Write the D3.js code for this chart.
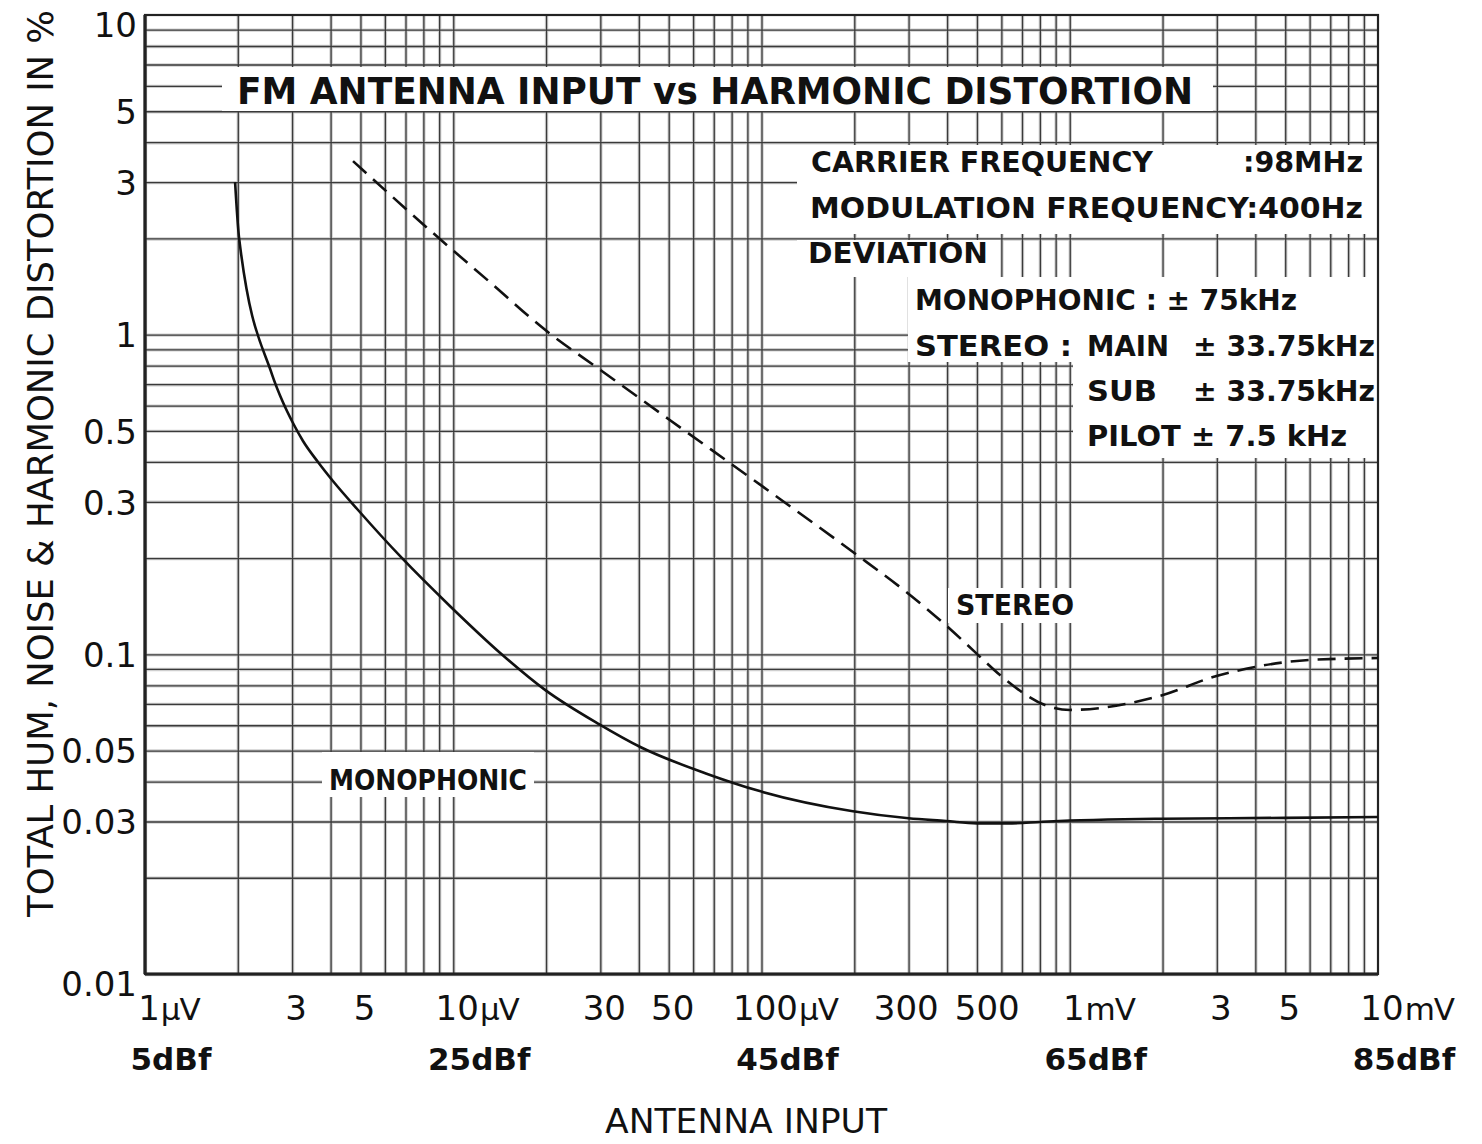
<!DOCTYPE html>
<html><head><meta charset="utf-8">
<script src="https://cdn.jsdelivr.net/npm/d3@7"></script>
<style>body{margin:0;background:#fff}svg{display:block}</style>
</head><body>
<svg id="c" width="1482" height="1144"></svg>
<script>
// ---------- data (antenna input in µV, distortion in %) ----------
const monoInput = [1.96,2.02,2.58,2.80,3.02,3.255,3.64,4.07,4.91,6.81,9.75,14.2,19.9,29.7,40.6,66,98,198,300,397,500,650,800,1000,1500,2000,5000,10000];
const monoTHD   = [3.0,2.0,0.753,0.6155,0.5293,0.465,0.3996,0.3485,0.2828,0.2002,0.1417,0.101,0.0773,0.0605,0.0512,0.0424,0.0374,0.0323,0.0307,0.0301,0.0296,0.0296,0.0299,0.0302,0.0305,0.0306,0.0308,0.031];
const stereoInput = [4.73,8.9,13,20,30,50,100,198,294,409,493,594,690,831,1002,1253,1569,2007,2915,3990,5973,10000];
const stereoTHD   = [3.49,2.02,1.474,1.03,0.776,0.544,0.337,0.209,0.157,0.12,0.1016,0.0861,0.0769,0.0694,0.067,0.0679,0.0704,0.0746,0.0849,0.0913,0.096,0.0974];

const yTickValues = [10,5,3,1,0.5,0.3,0.1,0.05,0.03,0.01];
const yTickLabels = ["10","5","3","1","0.5","0.3","0.1","0.05","0.03","0.01"];
const xTickValues = [1,3,5,10,30,50,100,300,500,1000,3000,5000,10000];
const xTickNumbers = ["1","3","5","10","30","50","100","300","500","1","3","5","10"];
const xTickUnits = ["µV","","","µV","","","µV","","","mV","","","mV"];
const dbfValues = [1,10,100,1000,10000];
const dbfLabels = ["5dBf","25dBf","45dBf","65dBf","85dBf"];

const title = "FM ANTENNA INPUT vs HARMONIC DISTORTION";
const xTitle = "ANTENNA INPUT";
const yTitle = "TOTAL HUM, NOISE & HARMONIC DISTORTION IN %";

// ---------- layout ----------
const FONT = "'DejaVu Sans', sans-serif";
const L = 145, R = 1378, T = 15, B = 974;
const svg = d3.select("#c");
const x = d3.scaleLog().domain([1, 10000]).range([L, R]);
const y = d3.scaleLog().domain([0.01, 10]).range([B, T]);

const gridX = [], gridY = [];
for (let k = 0; k < 4; k++) for (let m = 1; m < 10; m++) gridX.push(m * Math.pow(10, k));
for (let k = -2; k < 1; k++) for (let m = 1; m < 10; m++) gridY.push(m * Math.pow(10, k));

function grid(color, width) {
  const gx = svg.append("g").attr("transform", `translate(0,${B})`)
    .call(d3.axisBottom(x).tickValues(gridX).tickSize(-(B - T)).tickFormat(""));
  gx.select(".domain").remove();
  gx.selectAll("line").attr("stroke", color).attr("stroke-width", width);
  const gy = svg.append("g").attr("transform", `translate(${L},0)`)
    .call(d3.axisLeft(y).tickValues(gridY).tickSize(-(R - L)).tickFormat(""));
  gy.select(".domain").remove();
  gy.selectAll("line").attr("stroke", color).attr("stroke-width", width);
}
grid("#cfcfcf", 3.4);
grid("#3a3a3a", 1.3);

// white areas behind the lettering
const masks = [
  [222, 67, 991, 44],    // title
  [797, 145, 581, 89],   // carrier / modulation
  [797, 240, 203, 37],   // deviation
  [908, 277, 470, 85],   // monophonic / stereo main
  [1073, 362, 305, 96],  // sub / pilot
  [322, 752, 212, 45],   // MONOPHONIC label
  [948, 588, 132, 35]    // STEREO label
];
svg.append("g").selectAll("rect").data(masks).join("rect")
  .attr("x", d => d[0]).attr("y", d => d[1]).attr("width", d => d[2]).attr("height", d => d[3])
  .attr("fill", "#fff");

// frame
svg.append("rect").attr("x", L).attr("y", T).attr("width", R - L).attr("height", B - T)
  .attr("fill", "none").attr("stroke", "#222").attr("stroke-width", 2.2);
svg.append("line").attr("x1", L).attr("x2", L).attr("y1", T).attr("y2", B).attr("stroke", "#222").attr("stroke-width", 3.2);
svg.append("line").attr("x1", L).attr("x2", R).attr("y1", B).attr("y2", B).attr("stroke", "#222").attr("stroke-width", 3.2);

// curves
const line = d3.line().x(d => x(d[0])).y(d => y(d[1])).curve(d3.curveMonotoneX);
svg.append("path").datum(d3.zip(monoInput, monoTHD)).attr("d", line)
  .attr("fill", "none").attr("stroke", "#111").attr("stroke-width", 2.6);
svg.append("path").datum(d3.zip(stereoInput, stereoTHD)).attr("d", line)
  .attr("fill", "none").attr("stroke", "#111").attr("stroke-width", 2.6)
  .attr("stroke-dasharray", "18,9");

// y tick labels
const ya = svg.append("g").attr("transform", `translate(${L},0)`)
  .call(d3.axisLeft(y).tickValues(yTickValues).tickSize(0).tickPadding(8)
    .tickFormat(d => yTickLabels[yTickValues.indexOf(d)]));
ya.select(".domain").remove();
ya.selectAll("text").attr("font-family", FONT).attr("font-size", 34).attr("fill", "#111")
  .attr("dy", d => (d === 10 || d === 0.01) ? "0.62em" : "0.36em");

// x tick labels: number centred on the tick, unit trailing; push apart overlapping labels
const xl = svg.append("g").attr("font-family", FONT).attr("fill", "#111");
const items = xTickValues.map((v, i) => {
  const g = xl.append("g");
  const t = g.append("text").attr("x", 0).attr("y", 1020).attr("font-size", 34).text(xTickNumbers[i]);
  const w = t.node().getComputedTextLength();
  let total = w;
  if (xTickUnits[i]) {
    const u = g.append("text").attr("x", w + 1).attr("y", 1020).attr("font-size", 31)
      .attr("letter-spacing", -1).text(xTickUnits[i]);
    total += 1 + u.node().getComputedTextLength();
  }
  return {v, g, w, total, x0: x(v) - w / 2 + 4};
});
for (let i = 1; i < items.length; i++) {
  const a = items[i - 1], b = items[i];
  const gap = b.x0 - (a.x0 + a.total);
  if (gap < 16) { const s = (16 - gap) / 2; a.x0 -= s; b.x0 += s; }
}
items.forEach(it => it.g.attr("transform", `translate(${it.x0},0)`));

svg.append("g").selectAll("text").data(dbfValues).join("text")
  .attr("x", d => x(d) + 26).attr("y", 1070).attr("text-anchor", "middle")
  .attr("font-family", FONT).attr("font-size", 31).attr("font-weight", "bold").attr("fill", "#111")
  .text((d, i) => dbfLabels[i]);

// axis titles
svg.append("text").attr("x", 605).attr("y", 1133).attr("textLength", 282).attr("lengthAdjust", "spacingAndGlyphs")
  .attr("font-family", FONT).attr("font-size", 34).attr("fill", "#111").text(xTitle);
svg.append("text").attr("transform", "translate(53,917) rotate(-90)")
  .attr("textLength", 907).attr("lengthAdjust", "spacingAndGlyphs")
  .attr("font-family", FONT).attr("font-size", 35).attr("fill", "#111").text(yTitle);

// annotations: [text, x, baseline, width, size, weight]
const notes = [
  [title, 237, 104, 956, 38, "bold"],
  ["CARRIER FREQUENCY", 811, 172, 342, 29, "bold"],
  [":98MHz", 1243, 172, 120, 29, "bold"],
  ["MODULATION FREQUENCY:400Hz", 810, 218, 553, 29, "bold"],
  ["DEVIATION", 808, 263, 180, 29, "bold"],
  ["MONOPHONIC : ± 75kHz", 915, 310, 382, 29, "bold"],
  ["STEREO :", 915, 356, 157, 29, "bold"],
  ["MAIN", 1087, 356, 82, 29, "bold"],
  ["± 33.75kHz", 1193, 356, 182, 29, "bold"],
  ["SUB", 1087, 401, 70, 29, "bold"],
  ["± 33.75kHz", 1193, 401, 182, 29, "bold"],
  ["PILOT ± 7.5 kHz", 1087, 446, 260, 29, "bold"],
  ["MONOPHONIC", 329, 790, 198, 29, "bold"],
  ["STEREO", 956, 615, 118, 29, "bold"]
];
svg.append("g").selectAll("text").data(notes).join("text")
  .attr("x", d => d[1]).attr("y", d => d[2]).attr("textLength", d => d[3]).attr("lengthAdjust", "spacingAndGlyphs")
  .attr("font-family", FONT).attr("font-size", d => d[4]).attr("font-weight", d => d[5]).attr("fill", "#111")
  .text(d => d[0]);
</script>
</body></html>
